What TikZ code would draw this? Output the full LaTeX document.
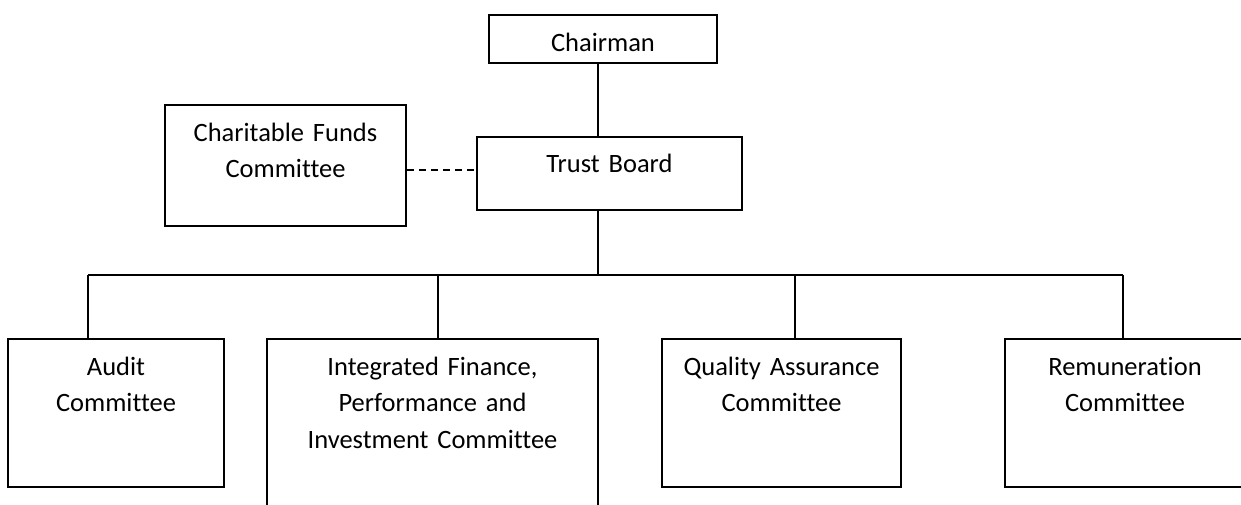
\documentclass[tikz,border=0pt]{standalone}
\usepackage{fontspec}
\setmainfont{Carlito}[Ligatures={NoCommon}]
\usepackage{tikz}
\usetikzlibrary{calc}
\usetikzlibrary{shapes,positioning}

\begin{document}
\begin{tikzpicture}[x=0.5pt, y=-0.5pt]
    % Define block styles
    \tikzstyle{unitbox} = [rectangle, draw=black, line width=1pt, inner sep=0pt]
    \tikzstyle{unittext} = [anchor=base, inner sep=0pt, text width=170pt, align=center, font=\fontsize{13.25}{18.3}\selectfont]
    \tikzstyle{solidline} = [line width=1pt]
    \tikzstyle{dashline} = [line width=1pt, dash pattern=on 3.5pt off 2.5pt]

    \clip (0,0) rectangle (1241,504);

    % Boxes
    \node (chair) [unitbox, minimum width=114pt, minimum height=24pt] at (603,39) {};
    \node (board) [unitbox, minimum width=132.5pt, minimum height=36.5pt] at (609.5,173.5) {};
    \node (funds) [unitbox, minimum width=120.5pt, minimum height=60.5pt] at (285.5,165.5) {};
    \node (audit) [unitbox, minimum width=108pt, minimum height=74pt] at (116,413) {};
    \node (ifpi) [unitbox, minimum width=165.5pt, minimum height=95.5pt] at (432.5,434.5) {};
    \node (qa) [unitbox, minimum width=119.5pt, minimum height=74pt] at (781.5,413) {};
    \node (remun) [unitbox, minimum width=120pt, minimum height=74pt] at (1125,413) {};

    % Texts
    \node (chairtxt) [unittext] at ([yshift=-18.5pt]chair.north) {Chairman};
    \node (boardtxt) [unittext] at ([yshift=-18pt]board.north) {Trust Board};
    \node (fundstxt) [unittext] at ([yshift=-18.5pt]funds.north) {Charitable Funds\\Committee};
    \node (audittxt) [unittext] at ([yshift=-18.5pt]audit.north) {Audit\\Committee};
    \node (ifpitxt) [unittext] at ([yshift=-18.5pt]ifpi.north) {Integrated Finance,\\Performance and\\Investment Committee};
    \node (qatxt) [unittext] at ([yshift=-18.5pt]qa.north) {Quality Assurance\\Committee};
    \node (remuntxt) [unittext] at ([yshift=-18.5pt]remun.north) {Remuneration\\Committee};

    % Bus points
    \coordinate (trunk) at (598,275);
    \coordinate (d1) at (88,275);
    \coordinate (d2) at (438,275);
    \coordinate (d3) at (795,275);
    \coordinate (d4) at (1123,275);
    \coordinate (side) at (441,170);

    % Lines
    \draw [solidline] (chair.south -| trunk) -- (board.north -| trunk);
    \draw [solidline] (board.south -| trunk) -- (trunk);
    \draw [solidline] (d1) -- (d4);
    \draw [solidline] (d1) -- (d1 |- audit.north);
    \draw [solidline] (d2) -- (d2 |- ifpi.north);
    \draw [solidline] (d3) -- (d3 |- qa.north);
    \draw [solidline] (d4) -- (d4 |- remun.north);
    \draw [dashline] (side -| funds.east) -- (side -| board.west);
\end{tikzpicture}
\end{document}
